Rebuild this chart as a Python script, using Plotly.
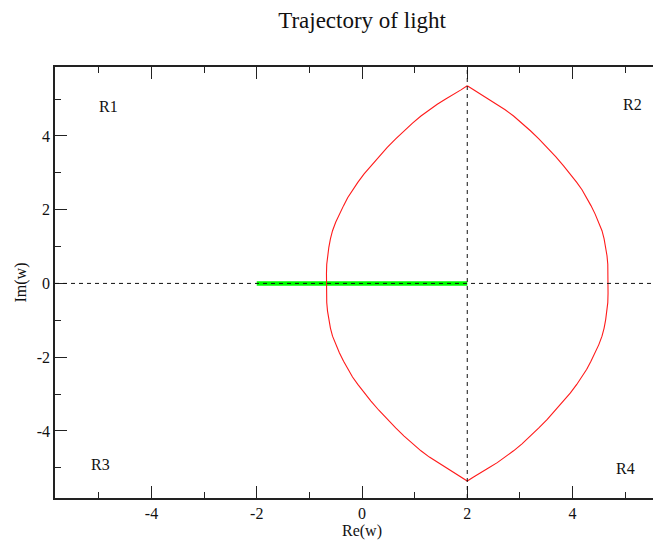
import plotly.graph_objects as go

# upper right arc of the light path (lens is symmetric about Re=2 and Im=0)
arc_re = [4.68, 4.675, 4.67, 4.655, 4.63, 4.60, 4.56, 4.50, 4.43, 4.35, 4.27, 4.18, 4.08, 3.96,
          3.83, 3.68, 3.52, 3.36, 3.20, 3.04, 2.88, 2.72, 2.57, 2.41, 2.25, 2.12, 2.0]
arc_im = [0.0, 0.26, 0.52, 0.75, 0.98, 1.21, 1.43, 1.66, 1.88, 2.11, 2.33, 2.54, 2.74, 2.97,
          3.19, 3.44, 3.69, 3.92, 4.14, 4.35, 4.54, 4.71, 4.86, 5.00, 5.13, 5.25, 5.36]
axis_re = 2.0  # mirror axis of the lens (vertical dashed line)
axis_im = 0.0  # real axis (horizontal dashed line)

# green segment on the real axis
seg_re = [-2.0, 2.0]
seg_im = [0.0, 0.0]

# region labels
region_names = ['R1', 'R2', 'R3', 'R4']
region_re = [-4.81, 5.14, -4.97, 5.01]
region_im = [4.79, 4.85, -4.90, -5.01]

x_ticks = [-4, -2, 0, 2, 4]
x_ticklabels = ['-4', '-2', '0', '2', '4']
x_minor = [-5, -3, -1, 1, 3, 5]
y_ticks = [-4, -2, 0, 2, 4]
y_ticklabels = ['-4', '-2', '0', '2', '4']
y_minor = [-5, -3, -1, 1, 3, 5]

# closed lens: right arc top -> bottom, then mirrored left arc bottom -> top
right_re = arc_re[::-1] + arc_re[1:]
right_im = arc_im[::-1] + [-v for v in arc_im[1:]]
left_re = [2*axis_re - v for v in right_re]
curve_re = right_re + left_re[::-1]
curve_im = right_im + right_im[::-1]

serif = 'Liberation Serif, Times New Roman, serif'
ink = '#111'

fig = go.Figure()
fig.add_scatter(x=seg_re, y=seg_im, mode='lines', line=dict(color='#00ff00', width=4.5), showlegend=False)
fig.add_scatter(x=curve_re, y=curve_im, mode='lines', line=dict(color='#ff1a1a', width=1.1), showlegend=False)
fig.add_hline(y=axis_im, line=dict(color=ink, width=1, dash='4px,4px'))
fig.add_vline(x=axis_re, line=dict(color=ink, width=1, dash='4px,4px'))

for name, re, im in zip(region_names, region_re, region_im):
    fig.add_annotation(x=re, y=im, text=name, showarrow=False, font=dict(family=serif, size=16, color=ink))

axis_style = dict(showline=True, linecolor='#222', linewidth=1.5, ticks='inside', ticklen=12,
                  tickwidth=1.3, tickcolor='#222', showgrid=False, zeroline=False, mirror='ticks',
                  tickfont=dict(family=serif, size=16, color=ink))
minor_style = dict(ticklen=6, tickwidth=1.3, tickcolor='#222', ticks='inside')

fig.update_xaxes(range=[-5.833, 5.833], tickvals=x_ticks, ticktext=x_ticklabels,
                 minor=dict(tickvals=x_minor, **minor_style),
                 title=dict(text='Re(w)', font=dict(family=serif, size=16, color=ink), standoff=2),
                 **axis_style)
fig.update_yaxes(range=[-5.82, 5.87], tickvals=y_ticks, ticktext=y_ticklabels,
                 minor=dict(tickvals=y_minor, **minor_style),
                 title=dict(text='Im(w)', font=dict(family=serif, size=16, color=ink), standoff=6),
                 **axis_style)

# the page body adds 8px on the left and top, so the figure is sized/margined around that
fig.update_layout(
    width=663, height=533,
    margin=dict(l=47, r=0, t=59, b=43),
    plot_bgcolor='white', paper_bgcolor='white',
    title=dict(text='Trajectory of light', x=0.534, xanchor='center', y=0.978, yanchor='middle',
               font=dict(family=serif, size=23, color=ink)),
)
fig.write_html('out.html')
